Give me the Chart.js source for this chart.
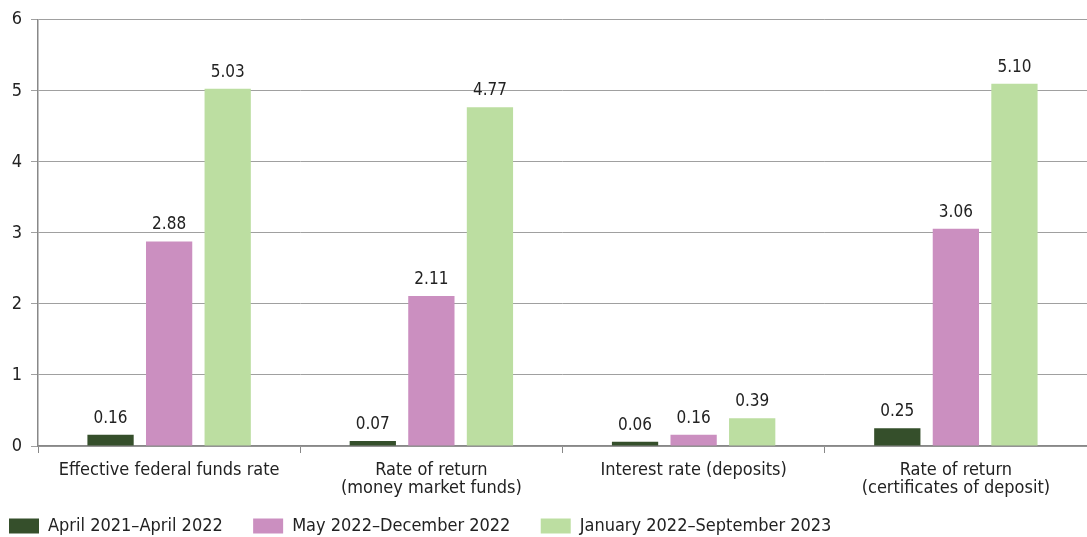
<!DOCTYPE html>
<html>
<head>
<meta charset="utf-8">
<script src="https://cdn.jsdelivr.net/npm/chart.js@4/dist/chart.umd.min.js"></script>
<style>
  html, body { margin: 0; padding: 0; background: #fff; }
  #wrap { width: 1087px; height: 537px; }
</style>
</head>
<body>
<div id="wrap"><canvas id="myChart" width="1087" height="537"></canvas></div>
<script>
const categories = [
  'Effective federal funds rate',
  ['Rate of return', '(money market funds)'],
  'Interest rate (deposits)',
  ['Rate of return', '(certificates of deposit)']
];
const seriesNames = ['April 2021\u2013April 2022', 'May 2022\u2013December 2022', 'January 2022\u2013September 2023'];
const apr21Apr22 = [0.16, 0.07, 0.06, 0.25];
const may22Dec22 = [2.88, 2.11, 0.16, 3.06];
const jan22Sep23 = [5.03, 4.77, 0.39, 5.10];
const yTicks = [0, 1, 2, 3, 4, 5, 6];

const FONT = '"Liberation Sans Narrow", "DejaVu Sans Condensed", "Roboto", sans-serif';
const colors = ['#354f2b', '#cb8fc0', '#bcdea1'];

// valori sopra le barre
const valueLabels = {
  id: 'valueLabels',
  afterDatasetsDraw(chart) {
    const ctx = chart.ctx;
    ctx.save();
    ctx.font = '17px ' + FONT;
    ctx.fillStyle = '#222';
    ctx.textAlign = 'center';
    ctx.textBaseline = 'bottom';
    chart.data.datasets.forEach((ds, i) => {
      chart.getDatasetMeta(i).data.forEach((bar, j) => {
        ctx.fillText(ds.data[j].toFixed(2), bar.x, bar.y - 8);
      });
    });
    ctx.restore();
  }
};

const ctx = document.getElementById('myChart').getContext('2d');
new Chart(ctx, {
  type: 'bar',
  data: {
    labels: categories,
    datasets: [
      { label: seriesNames[0], data: apr21Apr22, backgroundColor: colors[0] },
      { label: seriesNames[1], data: may22Dec22, backgroundColor: colors[1] },
      { label: seriesNames[2], data: jan22Sep23, backgroundColor: colors[2] }
    ]
  },
  options: {
    responsive: false,
    animation: false,
    devicePixelRatio: 1,
    layout: { padding: { top: 0, right: 0, left: 0, bottom: -8 } },
    datasets: { bar: { categoryPercentage: 0.67, barPercentage: 0.79 } },
    plugins: {
      legend: {
        position: 'bottom',
        align: 'start',
        labels: {
          boxWidth: 30,
          boxHeight: 15,
          padding: 9,
          color: '#222',
          font: { family: FONT, size: 18 },
          // spazio extra tra le voci della legenda
          generateLabels: chart => Chart.defaults.plugins.legend.labels.generateLabels(chart)
            .map(item => ({ ...item, text: item.text + '\u2002\u2002 ' }))
        }
      },
      tooltip: { enabled: false }
    },
    scales: {
      x: {
        grid: { drawOnChartArea: false, drawTicks: true, tickLength: 7, color: '#888' },
        border: { color: '#888', width: 1.5 },
        ticks: { color: '#222', font: { family: FONT, size: 18, lineHeight: 1.0 }, padding: 8, maxRotation: 0 },
        afterFit: s => { s.height += 3; }
      },
      y: {
        min: 0,
        max: 6,
        afterBuildTicks: axis => { axis.ticks = yTicks.map(v => ({ value: v })); },
        grid: { color: '#a0a0a0', tickLength: 7, lineWidth: 1 },
        border: { color: '#888', width: 1.5 },
        ticks: { color: '#222', font: { family: FONT, size: 18 }, padding: 9 },
        afterFit: s => { s.width = 38; }
      }
    }
  },
  plugins: [valueLabels]
});
</script>
</body>
</html>
